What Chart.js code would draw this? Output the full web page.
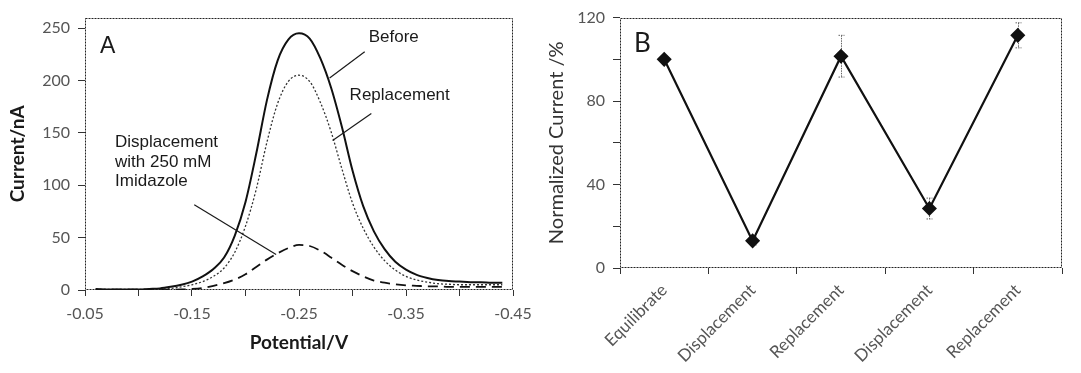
<!DOCTYPE html>
<html><head><meta charset="utf-8">
<script src="https://cdn.jsdelivr.net/npm/chart.js@4.4.1/dist/chart.umd.min.js"></script>
<style>
html,body{margin:0;padding:0;background:#fff;}
#wrap{position:relative;width:1081px;height:373px;overflow:hidden;background:#fff;}
canvas{position:absolute;top:0;}
#ca{left:0;} #cb{left:540px;}
</style></head><body>
<div id="wrap"><canvas id="ca" width="540" height="373"></canvas><canvas id="cb" width="541" height="373"></canvas></div>
<script>
// ---------- Panel A data ----------
const potentials = [-0.06,-0.07,-0.08,-0.09,-0.10,-0.11,-0.12,-0.13,-0.14,-0.15,-0.16,-0.17,-0.18,-0.19,-0.20,-0.21,-0.22,-0.23,-0.24,-0.25,-0.26,-0.27,-0.28,-0.29,-0.30,-0.31,-0.32,-0.33,-0.34,-0.35,-0.36,-0.37,-0.38,-0.39,-0.40,-0.41,-0.42,-0.43,-0.44];
const currentBefore = [1,0.5,0.5,0.5,0.5,1,1.5,3,5,8,13,20,31,52,84,130,181,219,239,245,240,221,193,156,114,80,56,39,27,19.5,14.5,11.5,9.5,8.5,8,7.5,7.5,7,7];
const currentReplacement = [1,0.5,0.5,0.5,0.5,0.5,0.8,1.5,3,5,8,13,21,36,61,96,141,178,199,205,199,179,151,116,83,59,41,28,19,13,9.5,7.5,6,5.5,5,5,5,5,5];
const currentDisplacement = [0.3,0.3,0.3,0.3,0.3,0.3,0.3,0.3,0.5,1,2,4,6.5,10,15,22,29,35,40,43,42,37.5,31,24,18,13,9,7,5.5,4.5,4,3.5,3.5,3,3,3,3,3,3];
const seriesNamesA = ['Before','Replacement','Displacement with 250 mM Imidazole'];
const yTicksA = [0,50,100,150,200,250];
const xTicksA = [-0.05,-0.10,-0.15,-0.20,-0.25,-0.30,-0.35,-0.40,-0.45];
const xTickLabelsA = ['-0.05','','-0.15','','-0.25','','-0.35','','-0.45'];

// ---------- Panel B data ----------
const stepsB = ['Equilibrate','Displacement','Replacement','Displacement','Replacement'];
const normCurrent = [100,13,101.5,28.5,111.5];
const normError = [0,2,10,5,6];
const yTicksB = [0,20,40,60,80,100,120];
const yTickLabelsB = ['0','','40','','80','','120'];

const TICK_FONT = {family:'Lato', size:16};
const TICK_COLOR = '#555';

const framePlugin = {
  id:'frame',
  beforeDatasetsDraw(chart){
    const {ctx, chartArea:a} = chart;
    ctx.save();
    ctx.strokeStyle = '#222';
    ctx.lineWidth = 1;
    ctx.setLineDash([2,1]);
    ctx.strokeRect(Math.round(a.left)+0.5, Math.round(a.top)+0.5, Math.round(a.width)-1, Math.round(a.height)-1);
    ctx.restore();
  }
};

const notesA = {
  id:'notesA',
  afterDatasetsDraw(chart){
    const {ctx, scales:{x,y}} = chart;
    const px = v => x.getPixelForValue(v), py = v => y.getPixelForValue(v);
    ctx.save();
    ctx.fillStyle = '#1a1a1a';
    ctx.font = '17px "Liberation Sans", Arial, sans-serif';
    ctx.textBaseline = 'middle';
    ctx.textAlign = 'left';
    ctx.fillText(seriesNamesA[0], px(-0.3151), py(241));
    ctx.fillText(seriesNamesA[1], px(-0.2973), py(186));
    ctx.fillText('Displacement', px(-0.0781), py(141));
    ctx.fillText('with 250 mM', px(-0.0781), py(122));
    ctx.fillText('Imidazole', px(-0.0781), py(103.5));
    ctx.strokeStyle = '#1a1a1a';
    ctx.lineWidth = 1.2;
    const seg = (x1,y1,x2,y2) => { ctx.beginPath(); ctx.moveTo(px(x1),py(y1)); ctx.lineTo(px(x2),py(y2)); ctx.stroke(); };
    seg(-0.3114,227.5,-0.2786,202.4);
    seg(-0.3176,168.4,-0.2814,142.6);
    seg(-0.1521,81.3,-0.2286,33.8);
    ctx.font = '23px "Liberation Sans", Arial, sans-serif';
    ctx.textBaseline = 'alphabetic';
    ctx.fillText('A', chart.chartArea.left + 15, chart.chartArea.top + 35);
    ctx.restore();
  }
};

const errorBars = {
  id:'errorBars',
  beforeDatasetsDraw(chart){
    const {ctx, scales:{x,y}} = chart;
    ctx.save();
    ctx.strokeStyle = '#666';
    ctx.lineWidth = 1;
    ctx.setLineDash([1.5,1]);
    normCurrent.forEach((v,i) => {
      const e = normError[i];
      if (!e) return;
      const cx = Math.round(x.getPixelForValue(i)) + 0.5;
      const t = y.getPixelForValue(v+e), b = y.getPixelForValue(v-e);
      ctx.beginPath(); ctx.moveTo(cx,t); ctx.lineTo(cx,b); ctx.stroke();
      ctx.beginPath(); ctx.moveTo(cx-3,t); ctx.lineTo(cx+3,t); ctx.moveTo(cx-3,b); ctx.lineTo(cx+3,b); ctx.stroke();
    });
    ctx.restore();
  }
};

const notesB = {
  id:'notesB',
  afterDatasetsDraw(chart){
    const {ctx} = chart;
    ctx.save();
    ctx.fillStyle = '#1a1a1a';
    ctx.font = '26px Lato, sans-serif';
    ctx.textBaseline = 'alphabetic';
    ctx.fillText('B', chart.chartArea.left + 14, chart.chartArea.top + 34);
    ctx.restore();
  }
};

new Chart(document.getElementById('ca'), {
  type:'line',
  data:{
    datasets:[
      {label:seriesNamesA[0], data:potentials.map((p,i)=>({x:p,y:currentBefore[i]})), borderColor:'#111', borderWidth:2, pointRadius:0, cubicInterpolationMode:'monotone', fill:false},
      {label:seriesNamesA[1], data:potentials.map((p,i)=>({x:p,y:currentReplacement[i]})), borderColor:'#333', borderWidth:1.3, borderDash:[2,2], pointRadius:0, cubicInterpolationMode:'monotone', fill:false},
      {label:seriesNamesA[2], data:potentials.map((p,i)=>({x:p,y:currentDisplacement[i]})), borderColor:'#111', borderWidth:1.8, borderDash:[10,6], pointRadius:0, cubicInterpolationMode:'monotone', fill:false}
    ]
  },
  options:{
    responsive:false, animation:false, devicePixelRatio:1,
    layout:{padding:{left:0,right:27,top:7,bottom:0}},
    plugins:{legend:{display:false}, tooltip:{enabled:false}},
    scales:{
      x:{
        type:'linear', reverse:true, min:-0.45, max:-0.05,
        afterBuildTicks(s){ s.ticks = xTicksA.map(v=>({value:v})); },
        afterFit(s){ s.height = 83; },
        ticks:{autoSkip:false, maxRotation:0, minRotation:0, padding:8, font:TICK_FONT, color:TICK_COLOR,
          callback:(v,i)=>xTickLabelsA[i]},
        grid:{display:true, drawOnChartArea:false, drawTicks:true, tickLength:6, color:'#333'},
        border:{display:false},
        title:{display:true, text:'Potential/V', font:{family:'Lato', size:19, weight:'bold'}, color:'#1a1a1a', padding:{top:0,bottom:19}}
      },
      y:{
        type:'linear', min:0, max:260,
        afterBuildTicks(s){ s.ticks = yTicksA.map(v=>({value:v})); },
        afterFit(s){ s.width = 85; },
        ticks:{padding:8, font:TICK_FONT, color:TICK_COLOR, callback:v=>String(v)},
        grid:{display:true, drawOnChartArea:false, drawTicks:true, tickLength:7, color:'#333'},
        border:{display:false},
        title:{display:true, text:'Current/nA', font:{family:'Lato', size:19, weight:'bold'}, color:'#1a1a1a', padding:{top:6,bottom:0}}
      }
    }
  },
  plugins:[framePlugin, notesA]
});

new Chart(document.getElementById('cb'), {
  type:'line',
  data:{
    labels:stepsB,
    datasets:[{label:'Normalized Current', data:normCurrent, borderColor:'#111', borderWidth:2.2, pointStyle:'rectRot', pointRadius:6, pointBackgroundColor:'#111', pointBorderColor:'#111', tension:0, fill:false}]
  },
  options:{
    responsive:false, animation:false, devicePixelRatio:1,
    layout:{padding:{left:0,right:19,top:11,bottom:0}},
    plugins:{legend:{display:false}, tooltip:{enabled:false}},
    scales:{
      x:{
        type:'category', offset:true,
        afterFit(s){ s.height = 105; },
        ticks:{autoSkip:false, maxRotation:45, minRotation:45, padding:6, font:{family:'Lato', size:17}, color:TICK_COLOR},
        grid:{display:true, offset:true, drawOnChartArea:false, drawTicks:true, tickLength:6, color:'#333'},
        border:{display:false}
      },
      y:{
        type:'linear', min:0, max:120,
        afterBuildTicks(s){ s.ticks = yTicksB.map(v=>({value:v})); },
        afterFit(s){ s.width = 80; },
        ticks:{padding:8, font:TICK_FONT, color:TICK_COLOR, callback:(v,i)=>yTickLabelsB[i]},
        grid:{display:true, drawOnChartArea:false, drawTicks:true, tickLength:7, color:'#333'},
        border:{display:false},
        title:{display:true, text:'Normalized Current /%', font:{family:'Lato', size:20}, color:'#333', padding:{top:5,bottom:0}}
      }
    }
  },
  plugins:[framePlugin, errorBars, notesB]
});
</script>
</body></html>
